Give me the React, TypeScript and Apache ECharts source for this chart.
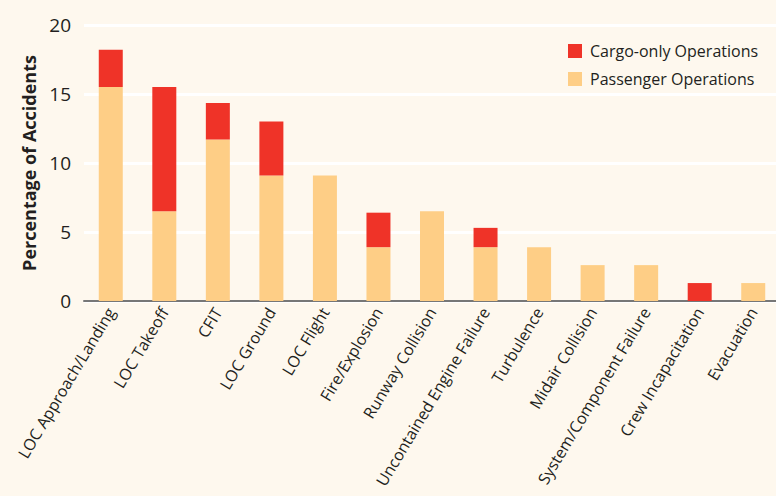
import React, { useEffect, useRef } from "react";
import * as echarts from "echarts";

const categories = [
  "LOC Approach/Landing",
  "LOC Takeoff",
  "CFIT",
  "LOC Ground",
  "LOC Flight",
  "Fire/Explosion",
  "Runway Collision",
  "Uncontained Engine Failure",
  "Turbulence",
  "Midair Collision",
  "System/Component Failure",
  "Crew Incapacitation",
  "Evacuation",
];
const passengerValues = [15.5, 6.5, 11.7, 9.1, 9.1, 3.9, 6.5, 3.9, 3.9, 2.6, 2.6, 0, 1.3];
const cargoValues = [2.7, 9.0, 2.65, 3.9, 0, 2.5, 0, 1.4, 0, 0, 0, 1.3, 0];
const yTicks = [0, 5, 10, 15, 20];

const FONT = "'Open Sans', 'Noto Sans', sans-serif";

export default function App() {
  const ref = useRef<HTMLDivElement>(null);
  useEffect(() => {
    document.body.style.margin = "0";
    const chart = echarts.init(ref.current!, null, { renderer: "svg" });
    chart.setOption({
      animation: false,
      backgroundColor: "#fef8ee",
      textStyle: { fontFamily: FONT },
      legend: {
        orient: "vertical",
        left: 563,
        top: 38,
        itemWidth: 14,
        itemHeight: 14,
        itemGap: 12,
        icon: "rect",
        data: ["Cargo-only Operations", "Passenger Operations"],
        textStyle: { fontSize: 16, color: "#231f20", fontFamily: FONT, padding: [0, 0, 0, 3] },
      },
      grid: {
        left: 84,
        top: 25,
        width: 696,
        height: 276,
        containLabel: false,
        outerBoundsMode: "none",
      },
      xAxis: {
        type: "category",
        data: categories,
        axisLine: { lineStyle: { color: "#777777", width: 2 } },
        axisTick: { show: false },
        axisLabel: {
          rotate: 59,
          interval: 0,
          fontSize: 16,
          color: "#231f20",
          fontFamily: FONT,
          margin: 8,
        },
      },
      yAxis: {
        type: "value",
        min: yTicks[0],
        max: yTicks[yTicks.length - 1],
        interval: 5,
        name: "Percentage of Accidents",
        nameLocation: "middle",
        nameGap: 44,
        nameTextStyle: { fontSize: 18, fontWeight: "bold", color: "#231f20", fontFamily: FONT },
        axisLine: { show: false },
        axisTick: { show: false },
        axisLabel: { fontSize: 19, color: "#231f20", fontFamily: FONT, margin: 13 },
        splitLine: { lineStyle: { color: "#ffffff", width: 3 } },
      },
      series: [
        {
          name: "Passenger Operations",
          type: "bar",
          stack: "total",
          barWidth: 24,
          data: passengerValues,
          itemStyle: { color: "#fece86" },
        },
        {
          name: "Cargo-only Operations",
          type: "bar",
          stack: "total",
          barWidth: 24,
          data: cargoValues,
          itemStyle: { color: "#ef3328" },
        },
      ],
    });
    return () => chart.dispose();
  }, []);
  return <div ref={ref} style={{ width: 776, height: 496 }} />;
}
